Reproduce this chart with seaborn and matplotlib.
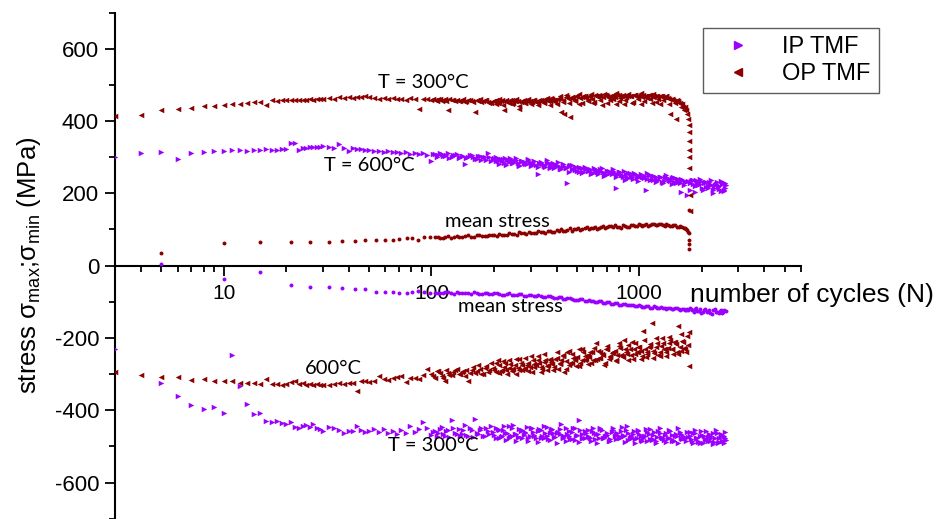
import numpy as np
import pandas as pd
import matplotlib
matplotlib.use("Agg")
import matplotlib.pyplot as plt
from matplotlib.lines import Line2D
import seaborn as sns

# ---------------- data ----------------
# cycle numbers shared by the max / min series (first pass)
N_grid = [3, 4, 5, 6, 7, 8, 9, 10, 11, 12,
          13, 14, 15, 16, 17, 18, 19, 20, 21, 22,
          23, 24, 25, 26, 27, 28, 29, 30, 32, 34,
          36, 38, 40, 42, 44, 46, 48, 50, 53, 56,
          59, 62, 65, 68, 71, 75, 79, 83, 87, 91,
          95, 100, 104, 108, 112, 116, 120, 125, 130, 135,
          140, 145, 150, 156, 162, 168, 174, 180, 187, 194,
          201, 208, 215, 223, 231, 239, 247, 256, 265, 274,
          283, 293, 303, 313, 324, 335, 346, 358, 370, 382,
          395, 408, 422, 436, 450, 465, 480, 496, 512, 529,
          546, 564, 582, 601, 620, 640, 660, 681, 703, 725,
          748, 772, 796, 821, 847, 873, 900, 928, 957, 986,
          1016, 1047, 1079, 1112, 1146, 1181, 1217, 1254, 1292, 1331,
          1371, 1412, 1454, 1497, 1541, 1586, 1632, 1679, 1700, 1720]
# in-between cycles (second pass, dense part)
N_grid2 = [102, 106, 110, 114, 118, 122, 127, 132, 137, 142,
           147, 153, 159, 165, 171, 177, 183, 190, 197, 204,
           211, 219, 227, 235, 243, 251, 260, 269, 278, 288,
           298, 308, 318, 329, 340, 352, 364, 376, 388, 401,
           415, 429, 443, 457, 472, 488, 504, 520, 537, 555,
           573, 591, 610, 630, 650, 670, 692, 714, 736, 760,
           784, 808, 834, 860, 886, 914, 942, 971, 1001, 1031,
           1063, 1095, 1129, 1163, 1199, 1235, 1273, 1311, 1351, 1391,
           1433, 1475, 1519, 1563, 1609, 1655]
# further cycles (third pass, densest part)
N_grid3 = [205, 212, 220, 228, 236, 245, 254, 263, 272, 282,
           292, 302, 313, 324, 336, 348, 360, 373, 386, 400,
           414, 429, 444, 460, 476, 493, 510, 528, 547, 566,
           586, 607, 628, 650, 673, 697, 722, 747, 773, 800,
           828, 857, 887, 918, 950, 983, 1018, 1054, 1091, 1129,
           1169, 1210, 1252, 1296, 1341, 1388, 1437, 1487, 1539, 1593,
           1649]

OP_max = [415, 417, 431, 434, 436, 442, 442, 445, 448, 448,
          451, 453, 452, 445, 457, 456, 457, 457, 458, 458,
          457, 459, 458, 460, 459, 461, 460, 461, 463, 462,
          465, 463, 466, 464, 467, 466, 468, 465, 463, 462,
          464, 461, 463, 460, 462, 458, 463, 461, 432, 460,
          462, 459, 457, 461, 455, 460, 429, 458, 456, 454,
          458, 453, 457, 455, 424, 456, 452, 459, 453, 450,
          456, 451, 455, 429, 452, 457, 450, 454, 434, 456,
          451, 455, 453, 457, 449, 456, 452, 458, 455, 460,
          453, 462, 424, 418, 466, 412, 461, 468, 447, 466,
          469, 455, 470, 450, 468, 471, 445, 472, 469, 458,
          473, 448, 471, 470, 446, 473, 469, 452, 471, 470,
          448, 471, 468, 472, 450, 469, 470, 447, 468, 466,
          464, 418, 459, 406, 455, 448, 440, 430, 420, 405]
OP_max2 = [460, 456, 462, 458, 455, 461, 457, 459, 454, 460,
           456, 458, 452, 457, 460, 454, 458, 451, 456, 459,
           453, 457, 455, 450, 458, 454, 456, 452, 457, 455,
           454, 458, 452, 459, 456, 461, 455, 463, 458, 460,
           464, 458, 466, 461, 467, 459, 468, 463, 470, 464,
           468, 462, 471, 465, 470, 466, 472, 463, 470, 467,
           471, 464, 473, 466, 470, 468, 472, 465, 471, 467,
           470, 464, 472, 466, 469, 462, 470, 465, 468, 460,
           462, 455, 458, 450, 446, 438]
OP_max3 = [448, 462, 444, 458, 452, 446, 460, 441, 455, 449,
           462, 447, 456, 443, 459, 450, 464, 445, 457, 448,
           468, 452, 472, 449, 465, 456, 474, 451, 468, 459,
           474, 452, 470, 457, 475, 449, 468, 461, 476, 454,
           470, 458, 475, 450, 472, 462, 476, 455, 470, 460,
           474, 452, 468, 458, 470, 448, 462, 450, 452, 440,
           430]
OP_max_end_N = [1730, 1735, 1738, 1740, 1742, 1744, 1746, 1748]
OP_max_end = [390, 370, 345, 320, 300, 271, 194, 152]

OP_min = [-295, -303, -308, -308, -317, -315, -320, -320, -320, -325,
          -325, -325, -327, -314, -327, -328, -330, -328, -322, -318,
          -327, -325, -330, -327, -329, -328, -330, -329, -329, -327,
          -325, -327, -325, -324, -348, -320, -318, -322, -318, -304,
          -315, -316, -311, -308, -305, -322, -310, -311, -313, -303,
          -286, -300, -310, -292, -305, -318, -296, -302, -288, -300,
          -295, -305, -318, -290, -298, -276, -300, -284, -294, -270,
          -288, -262, -292, -280, -300, -272, -285, -258, -290, -276,
          -282, -268, -295, -272, -250, -280, -266, -290, -262, -272,
          -258, -285, -262, -295, -240, -268, -256, -278, -230, -260,
          -250, -272, -238, -262, -215, -255, -245, -270, -232, -250,
          -240, -262, -222, -248, -205, -245, -230, -258, -215, -240,
          -236, -180, -252, -225, -160, -242, -215, -250, -200, -232,
          -228, -205, -245, -218, -166, -235, -210, -240, -195, -220]
OP_min2 = [-305, -292, -298, -310, -290, -302, -295, -285, -300, -292,
           -288, -298, -280, -292, -285, -300, -278, -290, -282, -294,
           -276, -288, -270, -284, -292, -275, -282, -268, -286, -274,
           -280, -262, -276, -270, -285, -260, -274, -266, -280, -256,
           -268, -250, -264, -275, -245, -262, -252, -270, -240, -258,
           -252, -240, -262, -235, -255, -246, -230, -258, -242, -236,
           -248, -228, -252, -238, -220, -246, -232, -240, -225, -250,
           -230, -244, -218, -236, -226, -248, -222, -232, -240, -214,
           -232, -212, -238, -224, -208, -230]
OP_min3 = [-270, -298, -265, -290, -262, -285, -300, -258, -288, -255,
           -292, -250, -280, -262, -295, -245, -278, -258, -288, -240,
           -272, -248, -285, -236, -268, -255, -278, -230, -262, -246,
           -268, -228, -258, -240, -275, -222, -252, -238, -265, -215,
           -250, -232, -262, -210, -245, -225, -258, -205, -240, -222,
           -255, -200, -238, -215, -250, -198, -232, -212, -245, -190,
           -228]
OP_min_end_N = [1730, 1740]
OP_min_end = [-185, -277]

IP_max = [301, 311, 313, 294, 311, 314, 316, 317, 319, 320,
          318, 320, 320, 322, 321, 321, 322, 323, 338, 338,
          321, 325, 326, 327, 328, 327, 329, 330, 328, 326,
          337, 324, 318, 325, 323, 322, 320, 321, 316, 318,
          315, 317, 313, 314, 311, 313, 310, 312, 309, 311,
          305, 288, 309, 306, 310, 303, 312, 301, 306, 298,
          304, 281, 300, 306, 296, 302, 293, 299, 311, 290,
          297, 288, 296, 285, 291, 298, 284, 292, 279, 288,
          286, 293, 280, 288, 254, 284, 276, 287, 272, 282,
          279, 286, 268, 275, 228, 277, 266, 273, 258, 270,
          272, 262, 268, 255, 265, 260, 270, 252, 263, 258,
          262, 215, 258, 250, 262, 245, 256, 240, 254, 248,
          252, 244, 208, 250, 240, 248, 236, 246, 232, 244,
          241, 234, 245, 228, 240, 203, 236, 230, 194, 235]
IP_max2 = [308, 300, 311, 303, 307, 298, 305, 310, 300, 304,
           298, 306, 301, 296, 304, 299, 293, 301, 296, 290,
           295, 289, 297, 286, 292, 288, 283, 290, 285, 280,
           287, 282, 278, 285, 280, 274, 283, 277, 271, 279,
           273, 280, 269, 276, 266, 272, 263, 270, 259, 267,
           264, 257, 268, 254, 262, 258, 250, 261, 253, 256,
           251, 258, 246, 254, 243, 250, 256, 241, 248, 244,
           247, 240, 250, 236, 244, 238, 246, 234, 242, 237,
           243, 232, 239, 228, 236, 230]
IP_max3 = [300, 282, 296, 278, 292, 284, 298, 276, 290, 281,
           294, 276, 289, 272, 286, 279, 291, 270, 284, 275,
           266, 282, 270, 260, 278, 264, 274, 256, 271, 262,
           252, 270, 258, 266, 248, 262, 255, 268, 244, 258,
           250, 238, 256, 244, 252, 234, 249, 242, 255, 236,
           247, 232, 244, 228, 250, 236, 226, 243, 231, 240,
           224]

IP_min = [-232, np.nan, -325, -361, -386, -396, -390, -407, -246, -332,
          -383, -411, -407, -429, -433, -430, -436, -438, -433, -447,
          -449, -445, -440, -446, -438, -450, -452, -457, -447, -450,
          -454, -464, -458, -457, -443, -455, -461, -458, -452, -460,
          -452, -463, -458, -466, -455, -462, -443, -460, -451, -433,
          -448, -468, -457, -462, -446, -470, -455, -426, -463, -452,
          -465, -440, -470, -455, -424, -466, -450, -472, -458, -445,
          -468, -452, -474, -445, -462, -470, -440, -466, -475, -455,
          -462, -476, -448, -468, -458, -478, -445, -470, -463, -452,
          -475, -460, -438, -472, -465, -480, -450, -470, -427, -476,
          -458, -470, -478, -448, -466, -476, -455, -472, -462, -480,
          -450, -468, -478, -458, -472, -445, -476, -465, -480, -455,
          -470, -478, -452, -466, -482, -460, -474, -448, -478, -468,
          -476, -458, -482, -466, -450, -478, -470, -484, -460, -474]
IP_min2 = [-460, -472, -452, -466, -458, -475, -448, -465, -470, -455,
           -468, -450, -474, -462, -456, -472, -448, -466, -460, -476,
           -455, -470, -462, -478, -450, -466, -474, -458, -468, -446,
           -472, -460, -478, -452, -470, -464, -480, -456, -474, -462,
           -466, -478, -450, -472, -460, -482, -468, -455, -476, -462,
           -474, -458, -480, -466, -452, -476, -470, -484, -460, -472,
           -462, -478, -468, -455, -482, -470, -458, -476, -466, -484,
           -472, -460, -480, -468, -486, -458, -474, -482, -464, -478,
           -468, -484, -472, -460, -480, -476]
IP_min3 = [-448, -478, -455, -482, -445, -472, -486, -452, -476, -460,
           -484, -450, -470, -488, -456, -478, -446, -482, -462, -490,
           -452, -474, -486, -458, -480, -448, -488, -466, -476, -454,
           -484, -462, -490, -450, -478, -468, -486, -456, -480, -470,
           -446, -488, -464, -478, -492, -458, -482, -470, -486, -452,
           -480, -490, -462, -476, -488, -454, -484, -472, -490, -466,
           -478]

IP_end_N = [1770, 1820, 1870, 1920, 1980, 2040, 2100, 2160, 2220, 2290,
            2360, 2430, 2500, 2560, 2600]
IP_end_N2 = [1745, 1795, 1845, 1895, 1950, 2010, 2070, 2130, 2190, 2255,
             2325, 2395, 2465, 2530, 2580]
IP_end_N3 = [1758, 1808, 1858, 1908, 1965, 2025, 2085, 2145, 2205, 2272,
             2342, 2412, 2482, 2545, 2590]
IP_max_end = [233, 226, 238, 222, 234, 228, 218, 232, 224, 215,
              230, 220, 226, 210, 222]
IP_max_end2 = [228, 236, 219, 230, 225, 214, 232, 220, 227, 210,
               224, 218, 206, 228, 214]
IP_max_end3 = [210, 238, 204, 226, 240, 208, 230, 215, 236, 202,
               226, 212, 234, 205, 228]
IP_min_end = [-480, -462, -476, -486, -458, -472, -482, -466, -478, -488,
              -464, -476, -484, -470, -482]
IP_min_end2 = [-470, -484, -464, -478, -490, -468, -480, -474, -486, -462,
               -478, -490, -472, -484, -476]
IP_min_end3 = [-460, -490, -455, -488, -472, -492, -458, -486, -470, -494,
               -456, -488, -466, -492, -460]

# cycle numbers of the mean-stress points
N_mean = [5, 10, 15, 21, 26, 32, 37, 43, 48, 54,
          60, 65, 70, 76, 81, 86, 92, 98, 104, 110,
          116, 124, 132, 140, 150, 160, 170, 180, 190, 200,
          212, 224, 236, 250, 264, 278, 294, 310, 326, 344,
          362, 380, 400, 420, 440, 462, 484, 508, 532, 558,
          584, 612, 640, 670, 700, 732, 766, 800, 836, 874,
          912, 952, 994, 1036, 1080, 1126, 1174, 1222, 1272, 1324,
          1378, 1432, 1488, 1546, 1606, 1668, 1700, 1720]
N_mean2 = [107, 113, 120, 128, 136, 145, 155, 165, 175, 185,
           195, 206, 218, 230, 243, 257, 271, 286, 302, 318,
           335, 353, 371, 390, 410, 430, 451, 473, 496, 520,
           545, 571, 598, 626, 655, 685, 716, 749, 783, 818,
           855, 893, 932, 973, 1015, 1058, 1103, 1150, 1198, 1247,
           1298, 1351, 1405, 1460, 1517, 1576, 1637, 1684]

OP_mean = [35, 62, 64, 66, 66, 66, 68, 67, 70, 70,
           71, 71, 74, 75, 75, 72, 78, 79, 78, 77,
           80, 76, 82, 80, 84, 78, 85, 82, 86, 84,
           88, 85, 90, 87, 92, 89, 93, 90, 95, 92,
           97, 94, 99, 101, 96, 103, 100, 104, 102, 106,
           103, 108, 105, 110, 106, 109, 112, 107, 111, 108,
           113, 110, 114, 109, 115, 111, 116, 112, 114, 110,
           113, 109, 111, 106, 108, 104, 98, 92]
OP_mean2 = [79, 77, 81, 78, 80, 83, 79, 84, 81, 83,
            85, 82, 86, 84, 88, 86, 90, 88, 91, 89,
            93, 91, 95, 92, 97, 95, 99, 97, 101, 99,
            103, 100, 105, 102, 107, 104, 109, 106, 108, 105,
            110, 107, 112, 109, 111, 113, 110, 114, 112, 115,
            111, 114, 109, 112, 107, 110, 104, 100]
OP_mean_end_N = [1730, 1736, 1740, 1742, 1744]
OP_mean_end = [155, 89, 72, 60, 47]

IP_mean = [4, -38, -17, -55, -58, -60, -62, -66, -66, -72,
           -72, -72, -76, -76, -72, -70, -74, -77, -76, -75,
           -74, -76, -73, -75, -77, -74, -78, -76, -79, -77,
           -78, -80, -77, -82, -79, -83, -80, -84, -82, -86,
           -85, -88, -90, -87, -92, -90, -94, -96, -93, -98,
           -97, -101, -99, -103, -101, -105, -104, -108, -106, -110,
           -109, -112, -110, -114, -112, -116, -113, -117, -115, -118,
           -117, -120, -118, -121, -119, -122, -120, -123]
IP_mean2 = [-75, -77, -74, -78, -76, -75, -79, -76, -78, -77,
            -79, -77, -81, -78, -80, -82, -79, -84, -81, -85,
            -83, -87, -85, -89, -88, -91, -89, -93, -95, -92,
            -97, -95, -99, -101, -98, -103, -101, -106, -104, -108,
            -107, -110, -108, -112, -111, -114, -112, -116, -114, -118,
            -116, -119, -117, -121, -118, -122, -120, -123]
IP_mean_end_N = [1760, 1800, 1850, 1900, 1960, 2020, 2080, 2140, 2200, 2270,
                 2340, 2410, 2480, 2540, 2600]
IP_mean_end = [-118, -124, -120, -126, -121, -128, -119, -125, -130, -122,
               -127, -132, -124, -129, -126]
IP_mean_end_N2 = [1780, 1825, 1875, 1930, 1990, 2050, 2110, 2170, 2235, 2305,
                  2375, 2445, 2510, 2570]
IP_mean_end2 = [-121, -127, -118, -125, -131, -122, -128, -124, -133, -120,
                -129, -126, -131, -123]

legend_labels = ["IP TMF", "OP TMF"]
annotations = [("T = 300°C", 91.5, 506), ("T = 600°C", 50.3, 277),
               ("mean stress", 208, 122), ("mean stress", 240, -113),
               ("600°C", 33.8, -285), ("T = 300°C", 102, -498)]

# ---------------- styling ----------------
C_IP = "#9B00FF"
C_OP = "#8B0000"

sns.set_style("ticks")
plt.rcParams["font.family"] = ["Liberation Sans", "DejaVu Sans"]
plt.rcParams["mathtext.fontset"] = "custom"
plt.rcParams["mathtext.rm"] = "Liberation Sans"
plt.rcParams["mathtext.it"] = "Liberation Sans:italic"
plt.rcParams["mathtext.default"] = "regular"
for k in ["text.color", "axes.labelcolor", "xtick.color", "ytick.color",
          "axes.edgecolor"]:
    plt.rcParams[k] = "black"

fig = plt.figure(figsize=(9.44, 5.19), dpi=100)
ax = fig.add_axes([115 / 944, 1 - 518.7 / 519, 686 / 944, 506.2 / 519])


def pts(n, v, marker, color, size=16):
    df = pd.DataFrame({"N": n, "S": v})
    sns.scatterplot(data=df, x="N", y="S", ax=ax, marker=marker, color=color,
                    s=size, linewidth=0, legend=False, zorder=3)


pts(N_grid + N_grid2 + N_grid3 + IP_end_N + IP_end_N2 + IP_end_N3,
    IP_max + IP_max2 + IP_max3 + IP_max_end + IP_max_end2 + IP_max_end3, ">", C_IP)
pts(N_grid + N_grid2 + N_grid3 + IP_end_N + IP_end_N2 + IP_end_N3,
    IP_min + IP_min2 + IP_min3 + IP_min_end + IP_min_end2 + IP_min_end3, ">", C_IP)
pts(N_mean + N_mean2 + IP_mean_end_N + IP_mean_end_N2,
    IP_mean + IP_mean2 + IP_mean_end + IP_mean_end2, "o", C_IP, 8)
pts(N_grid + N_grid2 + N_grid3 + OP_max_end_N,
    OP_max + OP_max2 + OP_max3 + OP_max_end, "<", C_OP)
pts(N_grid + N_grid2 + N_grid3 + OP_min_end_N,
    OP_min + OP_min2 + OP_min3 + OP_min_end, "<", C_OP)
pts(N_mean + N_mean2 + OP_mean_end_N, OP_mean + OP_mean2 + OP_mean_end, "o", C_OP, 8)

ax.set_xscale("log")
ax.set_xlim(3, 6000)
ax.set_ylim(-700, 700)
ax.set_xticks([10, 100, 1000])
ax.set_xticklabels(["10", "100", "1000"])
ax.set_yticks([-600, -400, -200, 0, 200, 400, 600])
ax.set_yticks(np.arange(-700, 701, 100), minor=True)
ax.set_yticklabels(["-600", "-400", "-200", "0", "200", "400", "600"])

for s in ["top", "right"]:
    ax.spines[s].set_visible(False)
ax.spines["bottom"].set_position(("data", 0))
for s in ["left", "bottom"]:
    ax.spines[s].set_linewidth(1.5)
    ax.spines[s].set_color("black")

ax.tick_params(axis="both", which="major", length=7.5, width=1.3, direction="out",
               color="black")
ax.tick_params(axis="both", which="minor", length=4.5, width=1.3, direction="out",
               color="black")
ax.tick_params(axis="x", which="major", labelsize=15, pad=6)
ax.tick_params(axis="y", which="major", labelsize=16, pad=4)

ax.set_xlabel("")
ax.set_ylabel(r"stress $\sigma_{max}$;$\sigma_{min}$ (MPa)", fontsize=18.5)
ax.yaxis.set_label_coords(-0.105, 0.5)

fig.text(690 / 944, 1 - 295 / 519, "number of cycles (N)", fontsize=19,
         ha="left", va="center")

for txt, xn, yv in annotations:
    ax.text(xn, yv, txt, fontsize=14.5, family=["Lato", "DejaVu Sans"],
            ha="center", va="center", zorder=4)

handles = [Line2D([], [], linestyle="none", marker=">", color=C_IP, markersize=6),
           Line2D([], [], linestyle="none", marker="<", color=C_OP, markersize=6)]
leg = fig.legend(handles, legend_labels, loc="upper left",
                 bbox_to_anchor=(703 / 944, 1 - 28 / 519), borderaxespad=0,
                 fontsize=17, frameon=True, fancybox=False, labelspacing=0.2,
                 borderpad=0.35, handlelength=2.3, handletextpad=0.7, numpoints=1)
leg.get_frame().set_edgecolor("#333333")
leg.get_frame().set_linewidth(1.0)

fig.savefig("out.png", dpi=100)
